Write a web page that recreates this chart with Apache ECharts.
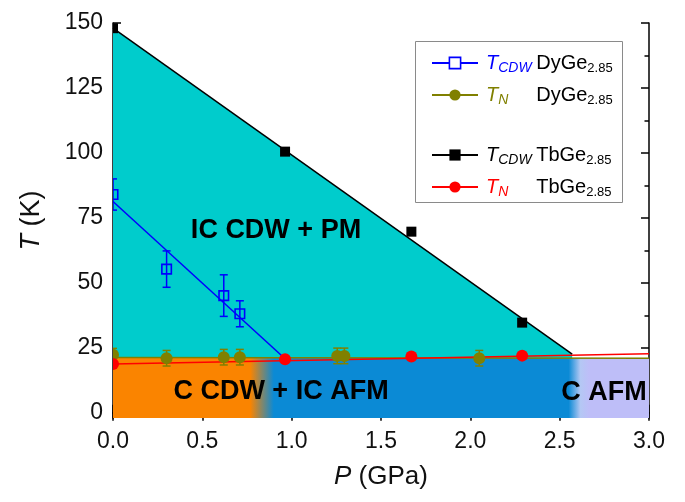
<!DOCTYPE html>
<html><head><meta charset="utf-8">
<script src="https://cdn.jsdelivr.net/npm/echarts@6/dist/echarts.min.js"></script>
<style>html,body{margin:0;padding:0;background:#fff}#c{width:685px;height:502px}</style>
</head><body><div id="c"></div>
<script>
// ---------- data ----------
const xTicks = [0, 0.5, 1.0, 1.5, 2.0, 2.5, 3.0];
const yTicks = [0, 25, 50, 75, 100, 125, 150];
const yMinorTicks = [12.5, 37.5, 62.5, 87.5, 112.5, 137.5];

// T_CDW DyGe2.85 (open blue squares, with error bars) and its linear fit
const dyCdwP = [0, 0.30, 0.62, 0.71];
const dyCdwT = [84, 55.3, 45.1, 38.1];
const dyCdwErr = [6, 7, 8, 5];
const dyCdwFitP = [0, 0.96];
const dyCdwFitT = [81.3, 21.0];

// T_N DyGe2.85 (olive circles) and its line
const dyNP = [0, 0.30, 0.62, 0.71, 1.255, 1.295, 2.05];
const dyNT = [22.3, 21.0, 21.4, 21.4, 21.9, 21.9, 21.0];
const dyNErr = [2.5, 3, 3, 3, 3, 3, 3];
const dyNLineP = [0, 3.0];
const dyNLineT = [21.3, 21.0];

// T_CDW TbGe2.85 (black squares) and its line
const tbCdwP = [0, 0.963, 1.67, 2.29];
const tbCdwT = [148, 100.5, 69.7, 34.7];
const tbCdwLineP = [0, 2.57];
const tbCdwLineT = [148, 22.6];

// T_N TbGe2.85 (red circles) and its line
const tbNP = [0, 0.963, 1.67, 2.29];
const tbNT = [18.8, 20.6, 21.7, 22.0];
const tbNLineP = [0, 3.0];
const tbNLineT = [18.8, 22.7];

// phase boundary between upper and lower phases
const bandP = [0, 3.0];
const bandT = [21.3, 21.0];

const regionNames = ['IC CDW + PM', 'C CDW + IC AFM', 'C AFM'];
const legendNames = ['dyCdw', 'dyN', 'tbCdw', 'tbN'];
const legendParts = {
  dyCdw: ['T', 'CDW', 'DyGe', '2.85'],
  dyN:   ['T', 'N',   'DyGe', '2.85'],
  tbCdw: ['T', 'CDW', 'TbGe', '2.85'],
  tbN:   ['T', 'N',   'TbGe', '2.85']
};

// ---------- styles ----------
const FONT = "'Liberation Sans', Arial, Helvetica, sans-serif";
const C = { blue: '#0000FF', olive: '#808000', black: '#000000', red: '#FF0000',
  cyan: '#00CCCC', orange: '#FA8400', dblue: '#0B8AD5', lav: '#BEBEF8' };
const colorKey = { dyCdw: 'B', dyN: 'O', tbCdw: 'K', tbN: 'R' };
const pairs = (P, T) => P.map((p, i) => [p, T[i]]);

function lineSeries(name, P, T, color, symbol) {
  return { type: 'line', name, data: pairs(P, T), symbol, showSymbol: false,
    lineStyle: { color, width: 1.5 }, itemStyle: { color }, silent: true, z: 3 };
}
function markerSeries(P, T, E, kind, color, size) {
  return {
    type: 'custom', clip: true, z: 5, silent: true,
    encode: { x: 0, y: 1 },
    data: P.map((p, i) => [p, T[i], E ? E[i] : 0]),
    renderItem: (params, api) => {
      const x = api.value(0), y = api.value(1), e = api.value(2);
      const c = api.coord([x, y]);
      const ch = [];
      if (e) {
        const t = api.coord([x, y + e])[1], b = api.coord([x, y - e])[1];
        const hw = 4;
        const st = { stroke: color, lineWidth: 1.5 };
        ch.push({ type: 'line', shape: { x1: c[0], y1: t, x2: c[0], y2: b }, style: st });
        ch.push({ type: 'line', shape: { x1: c[0] - hw, y1: t, x2: c[0] + hw, y2: t }, style: st });
        ch.push({ type: 'line', shape: { x1: c[0] - hw, y1: b, x2: c[0] + hw, y2: b }, style: st });
      }
      if (kind === 'open') {
        ch.push({ type: 'rect', shape: { x: c[0] - size / 2, y: c[1] - size / 2, width: size, height: size },
          style: { fill: 'none', stroke: color, lineWidth: 1.6 } });
      } else if (kind === 'square') {
        ch.push({ type: 'rect', shape: { x: c[0] - size / 2, y: c[1] - size / 2, width: size, height: size },
          style: { fill: color } });
      } else {
        ch.push({ type: 'circle', shape: { cx: c[0], cy: c[1], r: size / 2 }, style: { fill: color } });
      }
      return { type: 'group', children: ch };
    }
  };
}

const rich = {
  m: { fontFamily: FONT, fontSize: 20, color: '#000', lineHeight: 24 },
  ms: { fontFamily: FONT, fontSize: 13, color: '#000', lineHeight: 8, verticalAlign: 'bottom' }
};
[['B', C.blue], ['O', C.olive], ['K', C.black], ['R', C.red]].forEach(([k, col]) => {
  rich['t' + k] = { fontFamily: FONT, fontSize: 20, fontStyle: 'italic', color: col, lineHeight: 24 };
  rich['s' + k] = { fontFamily: FONT, fontSize: 14, fontStyle: 'italic', color: col, lineHeight: 8,
    verticalAlign: 'bottom', width: 38 };
});
function fmt(name) {
  const p = legendParts[name], k = colorKey[name];
  return `{t${k}|${p[0]}}{s${k}|${p[1]}}{m|${p[2]}}{ms|${p[3]}}`;
}
function legendCfg(names, top, itemH) {
  return {
    orient: 'vertical', left: 431, top, padding: 0, itemWidth: 46, itemHeight: itemH, itemGap: 10,
    selectedMode: false, formatter: fmt,
    textStyle: { rich, padding: [0, 0, 0, 3] },
    data: names.map(n => n === 'dyCdw'
      ? { name: n, itemStyle: { color: '#fff', borderColor: C.blue, borderWidth: 1.6 } }
      : { name: n })
  };
}

const axisLineStyle = { color: '#000', width: 1.5 };
const labelStyle = { fontFamily: FONT, fontSize: 23, color: '#111' };

const option = {
  animation: false,
  backgroundColor: '#fff',
  grid: { left: 113, right: 36, top: 23, bottom: 84 },
  xAxis: [
    { type: 'value', min: 0, max: 3, interval: 0.5, position: 'bottom',
      axisLine: { show: true, lineStyle: axisLineStyle },
      axisTick: { show: true, inside: true, length: 8, lineStyle: axisLineStyle },
      minorTick: { show: true, splitNumber: 2, length: 4.5, lineStyle: axisLineStyle },
      splitLine: { show: false },
      axisLabel: { ...labelStyle, margin: 12, formatter: v => v.toFixed(1) },
      name: '{i|P} (GPa)', nameLocation: 'middle', nameGap: 46,
      nameTextStyle: { fontFamily: FONT, fontSize: 26, color: '#111',
        rich: { i: { fontFamily: FONT, fontSize: 26, fontStyle: 'italic', color: '#111' } } } },
    { type: 'value', min: 0, max: 3, interval: 0.5, position: 'top',
      axisLine: { show: true, lineStyle: axisLineStyle },
      axisTick: { show: true, inside: true, length: 8, lineStyle: axisLineStyle },
      minorTick: { show: true, splitNumber: 2, length: 4.5, lineStyle: axisLineStyle },
      splitLine: { show: false }, axisLabel: { show: false } }
  ],
  yAxis: [
    { type: 'value', min: -2, max: 150, position: 'left',
      axisLine: { show: true, lineStyle: axisLineStyle },
      axisTick: { show: true, inside: true, length: 8, lineStyle: axisLineStyle, customValues: yTicks },
      splitLine: { show: false },
      axisLabel: { ...labelStyle, margin: 10, customValues: yTicks },
      name: '{i|T} (K)', nameLocation: 'middle', nameGap: 68, nameRotate: 90,
      nameTextStyle: { fontFamily: FONT, fontSize: 27, color: '#111',
        rich: { i: { fontFamily: FONT, fontSize: 27, fontStyle: 'italic', color: '#111' } } } },
    { type: 'value', min: -2, max: 150, position: 'left',
      axisLine: { show: false },
      axisTick: { show: true, inside: true, length: 4.5, lineStyle: axisLineStyle, customValues: yMinorTicks },
      splitLine: { show: false }, axisLabel: { show: false } },
    { type: 'value', min: -2, max: 150, position: 'right',
      axisLine: { show: true, lineStyle: axisLineStyle },
      axisTick: { show: true, inside: true, length: 8, lineStyle: axisLineStyle, customValues: yTicks },
      splitLine: { show: false }, axisLabel: { show: false } },
    { type: 'value', min: -2, max: 150, position: 'right',
      axisLine: { show: false },
      axisTick: { show: true, inside: true, length: 4.5, lineStyle: axisLineStyle, customValues: yMinorTicks },
      splitLine: { show: false }, axisLabel: { show: false } }
  ],
  legend: [
    legendCfg(['dyCdw', 'dyN'], 53, 14),
    legendCfg(['tbCdw', 'tbN'], 145, 14)
  ],
  graphic: [
    { type: 'rect', z: 3, shape: { x: 415.5, y: 41.5, width: 207, height: 161 },
      style: { fill: '#fff', stroke: '#8a8a8a', lineWidth: 1 } },
    { type: 'text', z: 10, x: 276, y: 231, style: { text: regionNames[0], font: `bold 27px ${FONT}`,
      fill: '#000', textAlign: 'center', textVerticalAlign: 'middle' } },
    { type: 'text', z: 10, x: 281, y: 392, style: { text: regionNames[1], font: `bold 27px ${FONT}`,
      fill: '#000', textAlign: 'center', textVerticalAlign: 'middle' } },
    { type: 'text', z: 10, x: 604, y: 393, style: { text: regionNames[2], font: `bold 27px ${FONT}`,
      fill: '#000', textAlign: 'center', textVerticalAlign: 'middle' } }
  ],
  series: [
    { type: 'line', data: pairs(tbCdwLineP, tbCdwLineT), symbol: 'none', silent: true, z: 1,
      lineStyle: { width: 0 }, areaStyle: { color: C.cyan, opacity: 1, origin: 'start' } },
    { type: 'line', data: pairs(bandP, bandT), symbol: 'none', silent: true, z: 1,
      lineStyle: { width: 0 },
      areaStyle: { opacity: 1, origin: 'start', color: new echarts.graphic.LinearGradient(0, 0, 1, 0, [
        { offset: 0, color: C.orange }, { offset: 0.256, color: C.orange },
        { offset: 0.300, color: C.dblue }, { offset: 0.850, color: C.dblue },
        { offset: 0.872, color: '#B4C8F4' }, { offset: 0.888, color: C.lav }, { offset: 1, color: C.lav }]) } },
    lineSeries('tbCdw', tbCdwLineP, tbCdwLineT, C.black, 'rect'),
    lineSeries('dyCdw', dyCdwFitP, dyCdwFitT, C.blue, 'rect'),
    lineSeries('dyN', dyNLineP, dyNLineT, C.olive, 'circle'),
    lineSeries('tbN', tbNLineP, tbNLineT, C.red, 'circle'),
    markerSeries(dyNP, dyNT, dyNErr, 'circle', C.olive, 12),
    markerSeries(tbNP, tbNT, null, 'circle', C.red, 12),
    markerSeries(dyCdwP, dyCdwT, dyCdwErr, 'open', C.blue, 9.5),
    markerSeries(tbCdwP, tbCdwT, null, 'square', C.black, 10)
  ]
};
const chart = echarts.init(document.getElementById('c'), null, { renderer: 'canvas' });
chart.setOption(option);
</script>
</body></html>
